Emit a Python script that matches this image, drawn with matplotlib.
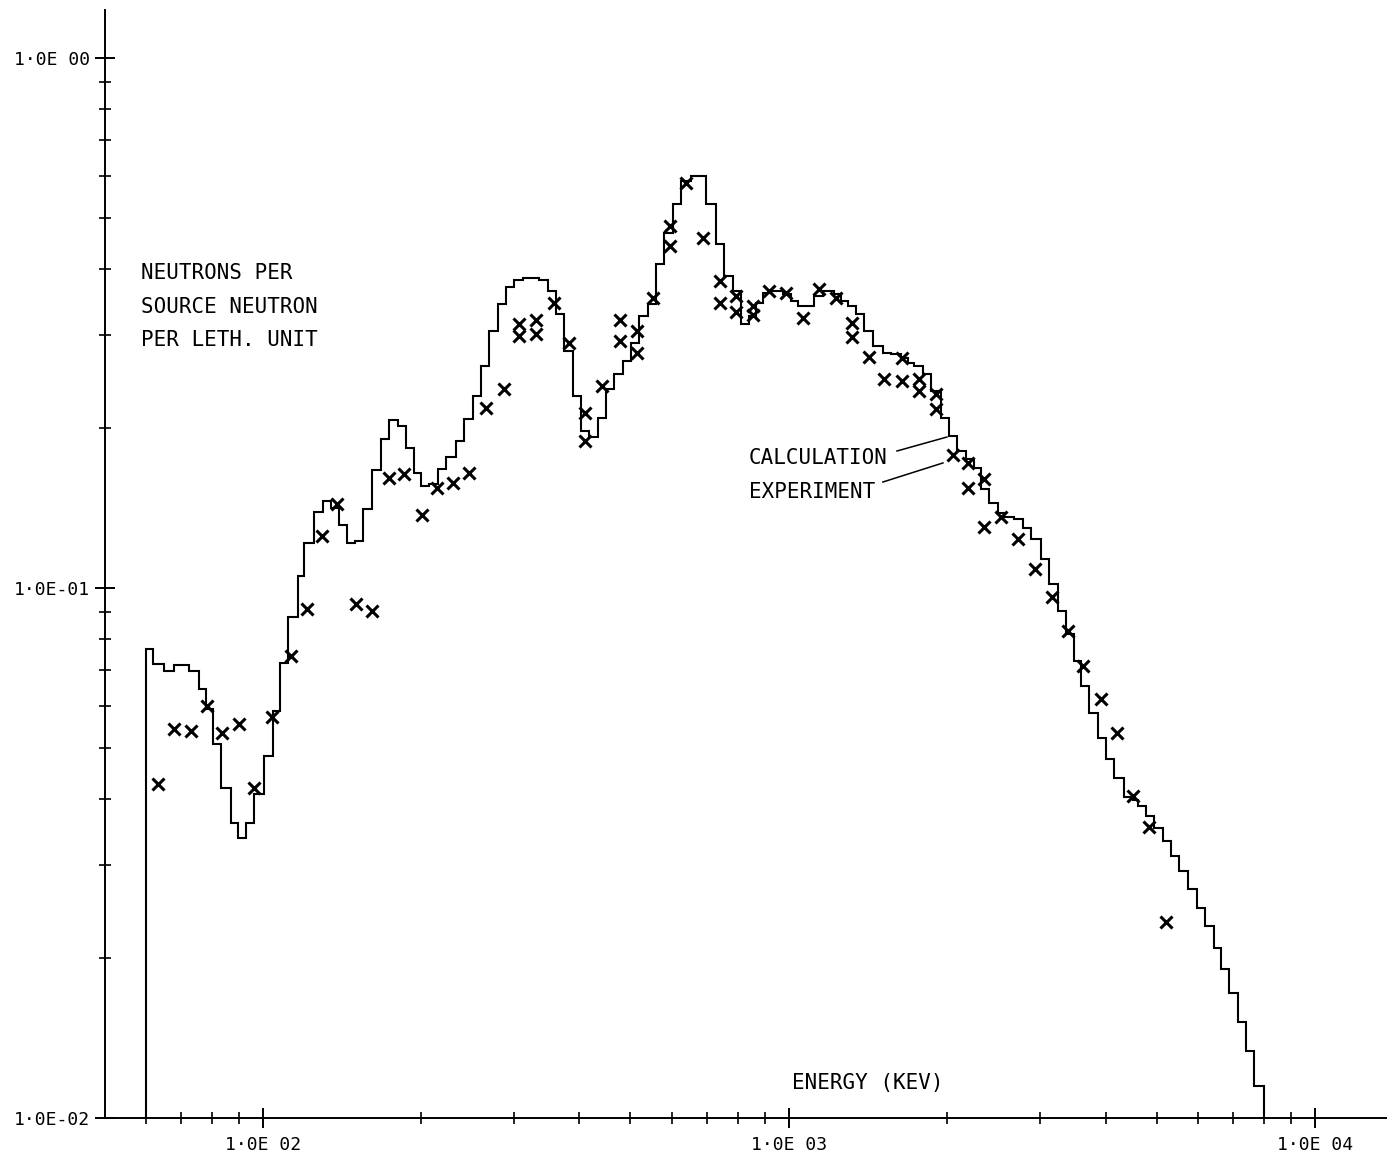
import numpy as np
import matplotlib
matplotlib.use("Agg")
import matplotlib.pyplot as plt
from matplotlib.ticker import LogLocator, FuncFormatter, NullFormatter

# calculated spectrum: bin edges (keV) and value per bin (neutrons per source neutron per lethargy unit)
calc_edges = [
    60.0, 61.8, 64.8, 67.7, 72.3, 75.6, 77.9, 80.3, 83.2, 86.9,
    89.6, 92.8, 96.1, 100.4, 104.5, 107.7, 111.6, 116.5, 119.7, 125.0,
    130.0, 134.7, 139.5, 144.5, 149.6, 154.9, 161.2, 167.6, 173.6, 180.5,
    187.0, 193.7, 199.7, 206.8, 215.1, 222.8, 232.8, 241.1, 250.7, 259.6,
    269.0, 279.7, 289.7, 300.1, 312.1, 323.2, 334.7, 348.1, 360.6, 373.4,
    388.5, 402.3, 416.6, 433.5, 448.9, 464.9, 483.5, 500.7, 518.6, 539.4,
    558.6, 578.5, 601.7, 623.1, 651.0, 671.4, 695.3, 726.4, 752.3, 782.5,
    810.4, 839.4, 865.5, 892.4, 924.3, 949.0, 974.0, 1009, 1040, 1077,
    1116, 1160, 1218, 1256, 1295, 1341, 1389, 1445, 1509, 1563,
    1633, 1684, 1729, 1798, 1862, 1945, 2015, 2086, 2171, 2247,
    2317, 2400, 2496, 2562, 2677, 2786, 2885, 3014, 3122, 3247,
    3362, 3482, 3590, 3718, 3868, 4006, 4149, 4335, 4508, 4618,
    4772, 4942, 5140, 5324, 5513, 5736, 5967, 6180, 6427, 6627,
    6863, 7140, 7393, 7656, 8000,
]
calc_values = [
    0.0767, 0.0719, 0.0697, 0.0716, 0.0697, 0.0645, 0.0591, 0.0508, 0.0419, 0.0360,
    0.0338, 0.0360, 0.0409, 0.0482, 0.0586, 0.0722, 0.0882, 0.1054, 0.1216, 0.1391,
    0.1459, 0.1416, 0.1315, 0.1216, 0.1227, 0.1410, 0.1670, 0.1911, 0.2075, 0.2021,
    0.1837, 0.1648, 0.1558, 0.1571, 0.1680, 0.1767, 0.1894, 0.2084, 0.2302, 0.2623,
    0.3054, 0.3434, 0.3698, 0.3813, 0.3845, 0.3845, 0.3813, 0.3634, 0.3289, 0.2800,
    0.2302, 0.1978, 0.1926, 0.2093, 0.2373, 0.2534, 0.2681, 0.2900, 0.3260, 0.3434,
    0.4087, 0.4675, 0.5302, 0.5858, 0.5988, 0.5988, 0.5302, 0.4456, 0.3877, 0.3634,
    0.3148, 0.3260, 0.3449, 0.3602, 0.3634, 0.3634, 0.3587, 0.3480, 0.3404, 0.3404,
    0.3556, 0.3634, 0.3587, 0.3480, 0.3404, 0.3289, 0.3054, 0.2862, 0.2776, 0.2764,
    0.2716, 0.2658, 0.2623, 0.2534, 0.2352, 0.2093, 0.1935, 0.1813, 0.1751, 0.1684,
    0.1537, 0.1447, 0.1385, 0.1361, 0.1349, 0.1298, 0.1238, 0.1134, 0.1017, 0.0905,
    0.0819, 0.0728, 0.0653, 0.0581, 0.0521, 0.0476, 0.0438, 0.0404, 0.0399, 0.0388,
    0.0371, 0.0352, 0.0333, 0.0312, 0.0292, 0.0270, 0.0249, 0.0230, 0.0209, 0.0191,
    0.0172, 0.0152, 0.0134, 0.0115,
]

# experiment points (keV, value)
exp_energy = [
    63.1, 67.8, 73.0, 78.2, 83.8, 90.1, 96.3, 104.3, 113.0, 121.2,
    129.5, 138.7, 150.2, 161.2, 173.4, 185.6, 200.6, 214.8, 229.5, 246.7,
    265.5, 287.5, 307.4, 307.4, 330.8, 330.8, 357.9, 382.3, 410.4, 410.4,
    442.4, 477.9, 477.9, 514.8, 514.8, 550.7, 593.4, 593.4, 637.4, 685.5,
    739.4, 739.4, 793.2, 793.2, 856.1, 856.1, 917.5, 987.0, 1066, 1142,
    1228, 1319, 1319, 1421, 1518, 1638, 1638, 1769, 1769, 1904,
    1904, 2048, 2194, 2194, 2351, 2351, 2530, 2725, 2936, 3162,
    3388, 3627, 3920, 4198, 4512, 4842, 5208,
]
exp_value = [
    0.0427, 0.0542, 0.0537, 0.0599, 0.0533, 0.0554, 0.0419, 0.0571, 0.0744, 0.0913,
    0.1253, 0.1438, 0.0933, 0.0905, 0.1615, 0.1643, 0.1371, 0.1542, 0.1580, 0.1650,
    0.2189, 0.2370, 0.3145, 0.2989, 0.3200, 0.3011, 0.3454, 0.2904, 0.2142, 0.1894,
    0.2405, 0.3200, 0.2924, 0.3054, 0.2780, 0.3530, 0.4820, 0.4418, 0.5815, 0.4580,
    0.3796, 0.3454, 0.3556, 0.3318, 0.3404, 0.3275, 0.3634, 0.3607, 0.3236, 0.3661,
    0.3530, 0.3166, 0.2976, 0.2729, 0.2475, 0.2721, 0.2458, 0.2475, 0.2352, 0.2319,
    0.2174, 0.1782, 0.1723, 0.1546, 0.1604, 0.1303, 0.1361, 0.1240, 0.1085, 0.0961,
    0.0830, 0.0713, 0.0617, 0.0533, 0.0405, 0.0354, 0.0234,
]

plt.rcParams['font.family'] = ['DejaVu Sans Mono', 'DejaVu Sans']

fig = plt.figure(figsize=(13.88, 11.61), dpi=100)
ax = fig.add_axes([0.0756, 0.0370, 0.9229, 0.9544])
ax.set_xscale("log")
ax.set_yscale("log")
ax.set_xlim(10 ** 1.7, 10 ** 4.135)
ax.set_ylim(0.01, 10 ** 0.0906)

ax.stairs(calc_values, calc_edges, baseline=0.01, color="black", lw=1.5)
ax.plot(exp_energy, exp_value, ls="none", marker="x", color="black",
        markersize=9, mew=2.2)

for s in ["top", "right"]:
    ax.spines[s].set_visible(False)
for s in ["left", "bottom"]:
    ax.spines[s].set_linewidth(1.4)


def fmt(v, pos):
    e = int(round(np.log10(v)))
    return "1\u00b70E%s%02d" % ("-" if e < 0 else " ", abs(e))


for axis in (ax.xaxis, ax.yaxis):
    axis.set_major_locator(LogLocator(base=10, numticks=10))
    axis.set_minor_locator(LogLocator(base=10, subs=np.arange(2, 10), numticks=20))
    axis.set_major_formatter(FuncFormatter(fmt))
    axis.set_minor_formatter(NullFormatter())

ax.tick_params(which="major", direction="inout", length=14.4, width=1.4, labelsize=13)
ax.tick_params(which="minor", direction="inout", length=8, width=1.2)
ax.tick_params(axis="y", which="major", pad=3.6)
ax.tick_params(axis="x", which="major", pad=6)

txt = dict(transform=ax.transAxes, fontsize=15, va="center", ha="left")
ax.text(0.0281, 0.7626, "NEUTRONS PER", **txt)
ax.text(0.0281, 0.7319, "SOURCE NEUTRON", **txt)
ax.text(0.0281, 0.7022, "PER LETH. UNIT", **txt)
ax.text(0.5027, 0.5957, "CALCULATION", **txt)
ax.text(0.5027, 0.5650, "EXPERIMENT", **txt)
ax.text(0.5363, 0.0316, "ENERGY (KEV)", **txt)

ax.plot([0.6183, 0.6573], [0.6020, 0.6146], transform=ax.transAxes, color="black", lw=1.1)
ax.plot([0.6073, 0.6542], [0.5740, 0.5912], transform=ax.transAxes, color="black", lw=1.1)

fig.savefig("out.png", dpi=100)
